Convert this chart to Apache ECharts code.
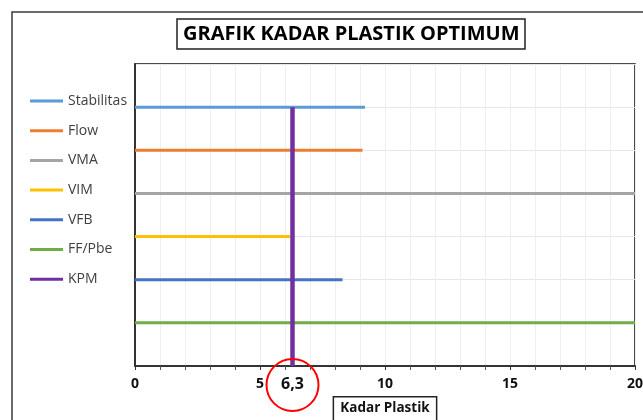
<!DOCTYPE html>
<html>
<head>
<meta charset="utf-8">
<script src="https://cdn.jsdelivr.net/npm/echarts@6/dist/echarts.min.js"></script>
<style>
  html, body { margin: 0; padding: 0; background: #fff; overflow: hidden; }
  #kpmChart { width: 643px; height: 420px; }
</style>
</head>
<body>
<div id="kpmChart"></div>
<script>
// data
const categories = ['Stabilitas', 'Flow', 'VMA', 'VIM', 'VFB', 'FF/Pbe'];
const rowLevel = [6, 5, 4, 3, 2, 1];
const rangeStart = [0, 0, 0, 0, 0, 0];
const rangeEnd = [9.2, 9.1, 20, 6.2, 8.3, 20];
const colors = ['#5B9BD5', '#ED7D31', '#A5A5A5', '#FFC000', '#4472C4', '#70AD47'];
const kpmName = 'KPM';
const kpmValue = 6.3;
const kpmLine = [0, 6];
const xTicks = [0, 5, 10, 15, 20];

// thin bar legend icon (corner dots keep the 33x14 box)
const barIcon = 'path://M0,0h0.05v0.05h-0.05z M32.95,13.95h0.05v0.05h-0.05z M0,5.5h33v3h-33z';

function kpmChart(eleName) {
    const chartEle = document.getElementById(eleName);
    const chart = echarts.init(chartEle);

    const rangeSeries = categories.map(function (name, i) {
        return {
            name: name,
            type: 'line',
            symbol: 'none',
            silent: true,
            lineStyle: { color: colors[i], width: 3 },
            itemStyle: { color: colors[i] },
            data: [[rangeStart[i], rowLevel[i]], [rangeEnd[i], rowLevel[i]]],
            z: 2
        };
    });

    const legendData = categories.map(function (name) {
        return { name: name, icon: barIcon };
    });
    legendData.push({ name: kpmName, icon: barIcon });

    const option = {
        animation: false,
        textStyle: { fontFamily: 'Open Sans' },
        graphic: [{
            type: 'rect',
            shape: { x: 12, y: 12, width: 700, height: 500 },
            style: { fill: 'none', stroke: '#3a3a3a', lineWidth: 1.5 },
            silent: true
        }],
        title: {
            text: 'GRAFIK KADAR PLASTIK OPTIMUM',
            left: 177,
            top: 19,
            padding: [5, 6, 5, 6],
            borderColor: '#222',
            borderWidth: 1.5,
            textStyle: { fontSize: 20, fontWeight: 'bold', color: '#000', fontFamily: 'Open Sans' }
        },
        legend: {
            orient: 'vertical',
            left: 30,
            top: 94,
            padding: 0,
            itemWidth: 33,
            itemHeight: 14,
            itemGap: 15.7,
            textStyle: { color: '#404040', fontSize: 14, fontFamily: 'Open Sans' },
            data: legendData
        },
        grid: {
            left: 135,
            right: 8,
            top: 64,
            bottom: 54,
            show: true,
            borderColor: '#111',
            borderWidth: 1.5,
            containLabel: false,
            outerBoundsMode: 'none'
        },
        xAxis: {
            type: 'value',
            min: xTicks[0],
            max: xTicks[xTicks.length - 1],
            interval: xTicks[1] - xTicks[0],
            name: 'Kadar Plastik',
            nameLocation: 'middle',
            nameGap: 28,
            nameTextStyle: {
                fontSize: 13.5,
                fontWeight: 'bold',
                color: '#111',
                borderColor: '#222',
                borderWidth: 1.5,
                padding: [5, 7, 12, 7]
            },
            axisLine: { lineStyle: { color: '#333', width: 2 } },
            axisTick: { show: true, length: 4, lineStyle: { color: '#333' } },
            minorTick: { show: true, splitNumber: 5, length: 4, lineStyle: { color: '#555' } },
            minorSplitLine: { show: true, lineStyle: { color: '#efefef', width: 1 } },
            splitLine: { show: true, lineStyle: { color: '#efefef', width: 1 } },
            axisLabel: { fontSize: 14, fontWeight: 'bold', color: '#111', margin: 11 }
        },
        yAxis: {
            type: 'value',
            min: 0,
            max: 7,
            interval: 1,
            axisLine: { show: true, lineStyle: { color: '#333', width: 2 } },
            axisTick: { show: false },
            axisLabel: { show: false },
            splitLine: { show: true, lineStyle: { color: '#e6e6e6', width: 1 } }
        },
        series: rangeSeries.concat([{
            name: kpmName,
            type: 'line',
            symbol: 'none',
            silent: true,
            lineStyle: { color: '#7030A0', width: 4.5 },
            itemStyle: { color: '#7030A0' },
            data: [[kpmValue, kpmLine[0]], [kpmValue, kpmLine[1]]],
            z: 3,
            markPoint: {
                symbol: 'circle',
                symbolSize: 52,
                symbolOffset: [0, 19],
                silent: true,
                itemStyle: { color: 'rgba(0,0,0,0)', borderColor: '#ff0000', borderWidth: 2 },
                label: {
                    show: true,
                    position: 'inside',
                    offset: [0, -1],
                    fontSize: 16,
                    fontWeight: 'bold',
                    color: '#111',
                    formatter: function () {
                        return String(kpmValue).replace('.', ',');
                    }
                },
                data: [{ coord: [kpmValue, 0] }]
            }
        }])
    };
    chart.setOption(option);
}
kpmChart('kpmChart');
</script>
</body>
</html>
